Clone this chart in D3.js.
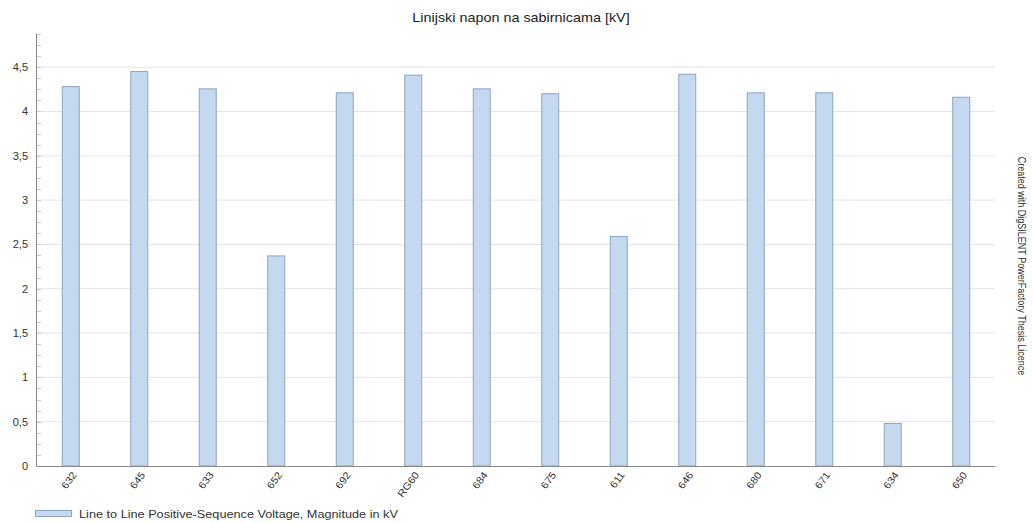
<!DOCTYPE html>
<html><head><meta charset="utf-8">
<script src="https://cdn.jsdelivr.net/npm/d3@7"></script>
<style>body{margin:0;background:#fff;}svg{display:block;font-family:"Liberation Sans",Arial,sans-serif;}</style>
</head><body>
<svg id="c" width="1033" height="523"></svg>
<script>
const categories = ["632","645","633","652","692","RG60","684","675","611","646","680","671","634","650"];
const values = [4.28,4.45,4.255,2.37,4.21,4.41,4.255,4.20,2.59,4.42,4.21,4.21,0.48,4.16];
const yTicks = [0,0.5,1,1.5,2,2.5,3,3.5,4,4.5];
const seriesName = "Line to Line Positive-Sequence Voltage, Magnitude in kV";
const title = "Linijski napon na sabirnicama [kV]";
const sideNote = "Created with DigSILENT PowerFactory Thesis Licence";

const svg = d3.select("#c");
const L = 36, R = 995, T = 33, B = 466;
const x = d3.scaleBand().domain(categories).range([L, R]).paddingInner(0).paddingOuter(0);
const y = d3.scaleLinear().domain([0, 4.885]).range([B, T]);
const fmt = d => String(d).replace(".", ",");

// gridlines
svg.append("g").selectAll("line").data(yTicks.filter(d=>d>0)).join("line")
  .attr("x1", L).attr("x2", R).attr("y1", d=>y(d)).attr("y2", d=>y(d))
  .attr("stroke", "#e4e4e4").attr("stroke-width", 1);

// minor ticks
const minor = d3.range(0, 4.88, 0.125);
svg.append("g").selectAll("line").data(minor).join("line")
  .attr("x1", L).attr("x2", L+5).attr("y1", d=>Math.round(y(d))+0.5).attr("y2", d=>Math.round(y(d))+0.5)
  .attr("stroke", "#c8c8c8");

// bars
const bw = 17;
svg.append("g").selectAll("rect").data(values).join("rect")
  .attr("x", (d,i)=>x(categories[i]) + x.bandwidth()/2 - bw/2 + 0.5)
  .attr("y", d=>y(d))
  .attr("width", bw).attr("height", d=>B - y(d))
  .attr("fill", "#c4d8f0").attr("stroke", "#8ba6c4").attr("stroke-width", 1);

// y axis
const ya = d3.axisLeft(y).tickValues(yTicks).tickFormat(fmt).tickSize(0).tickPadding(8);
const gy = svg.append("g").attr("transform", `translate(${L},0)`).call(ya);
gy.select(".domain").attr("stroke", "#8a8a8a");
gy.selectAll("text").attr("font-size", 11).attr("fill", "#333").attr("font-family", "Liberation Sans, Arial, sans-serif");

// x axis
const xa = d3.axisBottom(x).tickSize(0).tickPadding(0);
const gx = svg.append("g").attr("transform", `translate(0,${B})`).call(xa);
gx.select(".domain").attr("stroke", "#8a8a8a");
gx.selectAll("text")
  .attr("font-size", 10).attr("fill", "#333").attr("font-family", "Liberation Sans, Arial, sans-serif")
  .attr("text-anchor", "end").attr("dy", null).attr("y", 0)
  .attr("transform", "translate(7,9) rotate(-53) scale(1.1,1)");

// title
svg.append("text").attr("transform", "translate(521,22) scale(1.15,1)").attr("text-anchor", "middle")
  .attr("font-size", 12.5).attr("fill", "#222").text(title);

// side note
svg.append("text").attr("transform", "translate(1018,266) rotate(90) scale(0.86,1)")
  .attr("text-anchor", "middle").attr("font-size", 10.5).attr("fill", "#333").text(sideNote);

// legend
svg.append("rect").attr("x", 35.5).attr("y", 510.5).attr("width", 36).attr("height", 6)
  .attr("fill", "#c4d8f0").attr("stroke", "#8ba6c4");
svg.append("text").attr("transform", "translate(79,518) scale(1.21,1)").attr("font-size", 10.5).attr("fill", "#333").text(seriesName);
</script>
</body></html>
